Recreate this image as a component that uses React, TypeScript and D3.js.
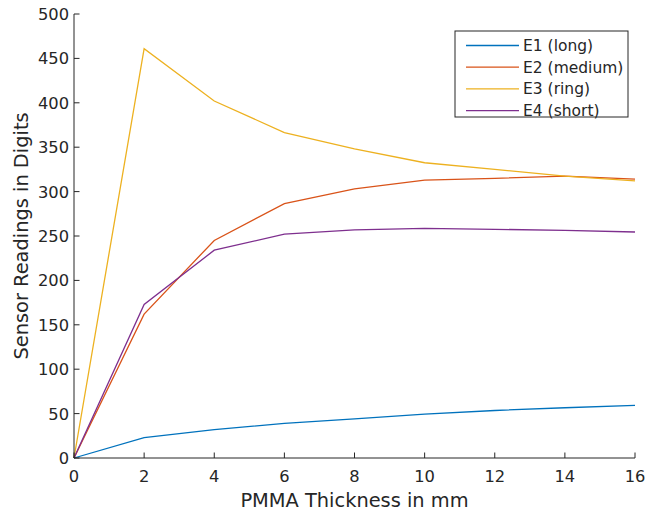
import React from "react";
import * as d3 from "d3";

const thickness = [0, 2, 4, 6, 8, 10, 12, 14, 16];
const e1Long = [0, 23, 32, 39, 44, 49.5, 53.5, 56.6, 59.3];
const e2Medium = [0, 162, 245, 286.5, 303, 313, 315, 317.5, 314];
const e3Ring = [0, 461, 402, 366.5, 348, 332.5, 325, 317.5, 312];
const e4Short = [0, 173, 234, 252, 257, 258.5, 257.5, 256.4, 254.5];
const seriesNames = ["E1 (long)", "E2 (medium)", "E3 (ring)", "E4 (short)"];
const seriesColors = ["#0072BD", "#D95319", "#EDB120", "#7E2F8E"];
const xTicks = [0, 2, 4, 6, 8, 10, 12, 14, 16];
const yTicks = [0, 50, 100, 150, 200, 250, 300, 350, 400, 450, 500];

export default function App() {
  const W = 648, H = 515;
  const left = 74, right = 635, top = 14, bottom = 458;
  const x = d3.scaleLinear().domain([0, 16]).range([left, right]);
  const y = d3.scaleLinear().domain([0, 500]).range([bottom, top]);
  const series = [e1Long, e2Medium, e3Ring, e4Short];
  const line = d3
    .line<number>()
    .x((_, i) => x(thickness[i]))
    .y((d) => y(d));
  const ink = "#262626";
  const font = "DejaVu Sans, sans-serif";
  const lx = 455, ly = 31, lw = 173, lh = 86;
  return (
    <svg width={W} height={H} style={{ position: "absolute", left: 0, top: 0 }} fontFamily={font}>
      <rect width={W} height={H} fill="#fff" />
      {series.map((s, i) => (
        <path key={i} d={line(s) || ""} fill="none" stroke={seriesColors[i]} strokeWidth={1.3} />
      ))}
      <line x1={left} x2={left} y1={top} y2={bottom} stroke={ink} strokeWidth={1} />
      <line x1={left} x2={right} y1={bottom} y2={bottom} stroke={ink} strokeWidth={1} />
      {xTicks.map((t) => (
        <g key={"x" + t}>
          <line x1={x(t)} x2={x(t)} y1={bottom} y2={bottom - 5.5} stroke={ink} />
          <text x={x(t)} y={482} textAnchor="middle" fontSize={16.3} fill={ink}>
            {t}
          </text>
        </g>
      ))}
      {yTicks.map((t) => (
        <g key={"y" + t}>
          <line x1={left} x2={left + 5.5} y1={y(t)} y2={y(t)} stroke={ink} />
          <text x={left - 5} y={y(t) + 6} textAnchor="end" fontSize={16.3} fill={ink}>
            {t}
          </text>
        </g>
      ))}
      <text x={(left + right) / 2} y={507} textAnchor="middle" fontSize={19.4} fill={ink}>
        PMMA Thickness in mm
      </text>
      <text
        transform={`translate(28,${(top + bottom) / 2}) rotate(-90)`}
        textAnchor="middle"
        fontSize={19.4}
        fill={ink}
      >
        Sensor Readings in Digits
      </text>
      <rect x={lx} y={ly} width={lw} height={lh} fill="#fff" stroke={ink} strokeWidth={1} />
      {seriesNames.map((n, i) => {
        const ry = ly + 14.5 + i * 21.7;
        return (
          <g key={n}>
            <line x1={466} x2={519} y1={ry} y2={ry} stroke={seriesColors[i]} strokeWidth={1.3} />
            <text x={523} y={ry + 5.5} fontSize={15.5} fill={ink}>
              {n}
            </text>
          </g>
        );
      })}
    </svg>
  );
}
